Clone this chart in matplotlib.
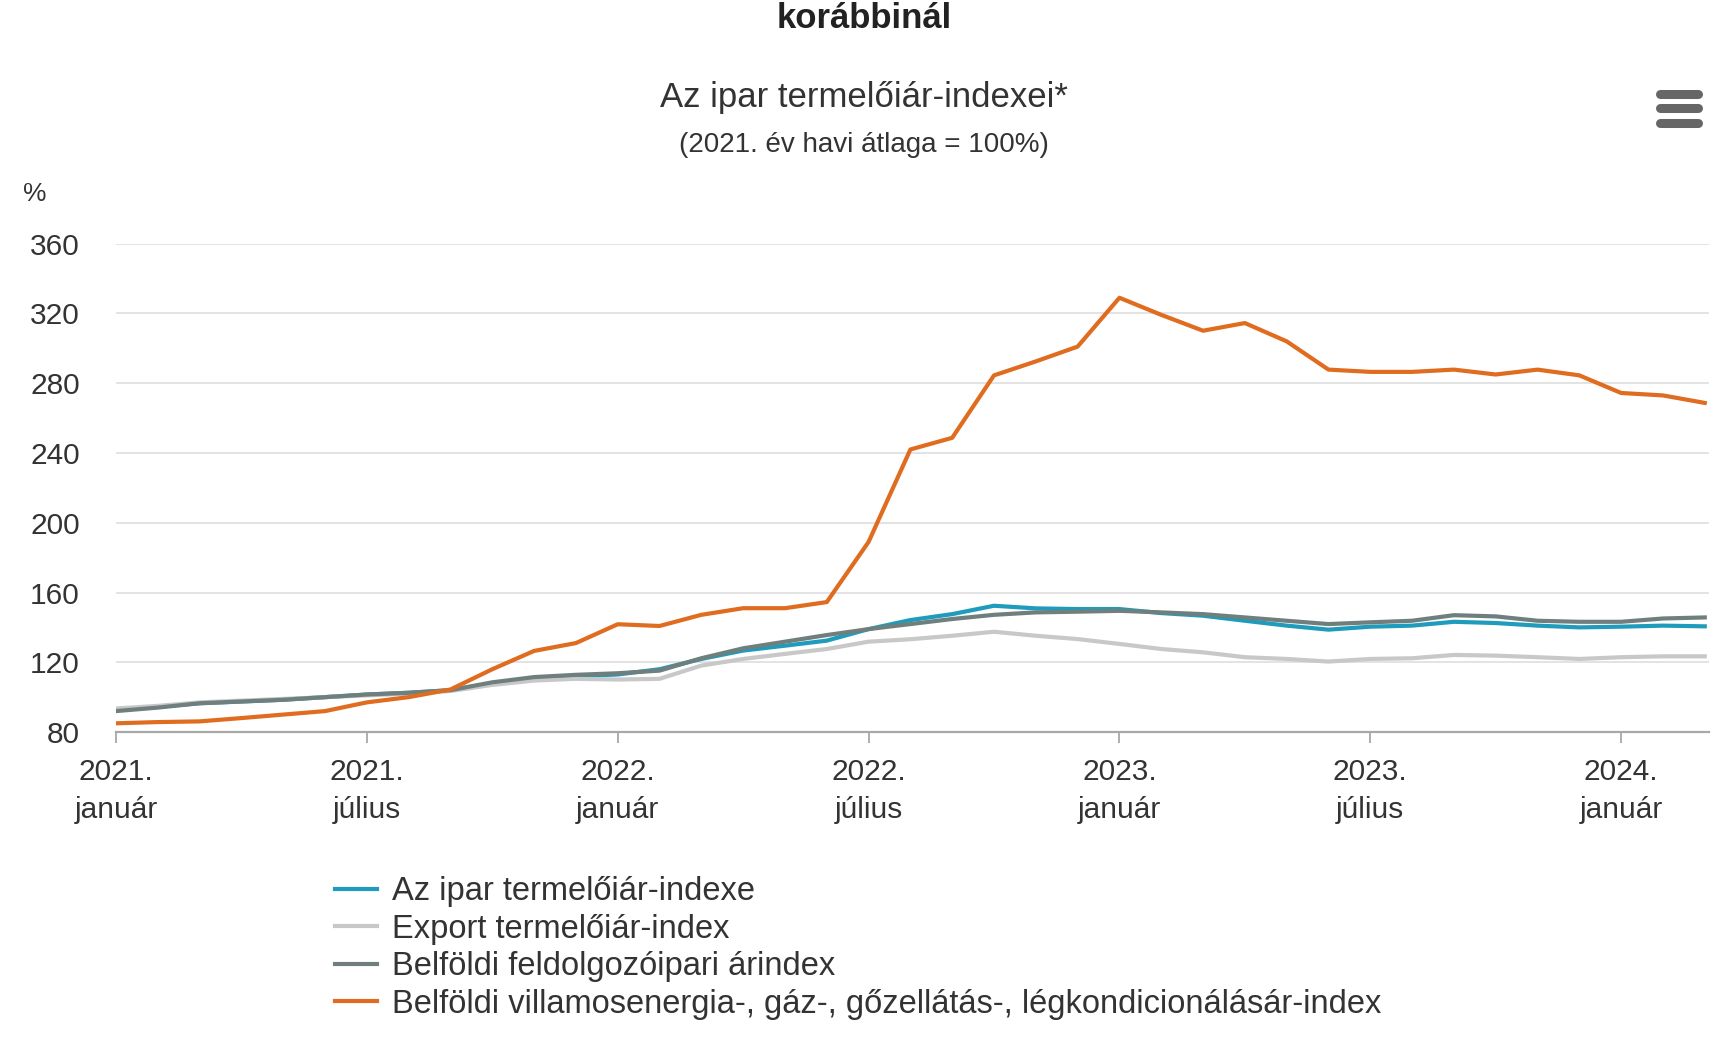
import numpy as np
import matplotlib
matplotlib.use('Agg')
import matplotlib.pyplot as plt
from matplotlib.lines import Line2D

plt.rcParams['font.family'] = ['Liberation Sans', 'DejaVu Sans']

# havi adatok 2021. január - 2024. március
honapok = np.arange(39)
tick_pos = [0, 6, 12, 18, 24, 30, 36]
tick_cimkek = ['2021.\njanuár', '2021.\njúlius', '2022.\njanuár', '2022.\njúlius',
               '2023.\njanuár', '2023.\njúlius', '2024.\njanuár']

ipar = [92.5, 94.5, 96.5, 97.5, 98.5, 100, 101.5, 102.5, 104, 108, 111, 112,
        113, 116, 121.9, 126.7, 129.5, 132.4, 139, 144.2, 147.6, 152.4, 150.9, 150.5,
        150.5, 148.2, 146.7, 143.8, 141, 138.7, 140.4, 141, 143.2, 142.5, 141, 140,
        140.4, 141, 140.6]
export = [93.5, 95, 97, 98, 99, 100, 101, 102, 103.5, 107, 109.5, 110.5,
          110.1, 110.5, 118.1, 121.9, 124.8, 127.6, 131.8, 133.2, 135.2, 137.5, 135.2, 133.3,
          130.5, 127.6, 125.7, 122.9, 121.9, 120.4, 121.9, 122.3, 124.2, 123.8, 122.9, 121.9,
          122.9, 123.4, 123.4]
feldolgozo = [92, 94, 96.5, 97.5, 98.5, 100, 101.5, 102.5, 104, 108.5, 111.5, 112.8,
              113.7, 115.2, 122.3, 128, 131.8, 135.6, 139, 141.9, 144.8, 147.2, 148.6, 149,
              149.5, 148.6, 147.6, 145.7, 143.8, 141.9, 142.9, 143.8, 147, 146.3, 143.8, 143.2,
              143.2, 145.1, 145.7]
energia = [85, 85.7, 86.1, 88, 90, 92, 97, 100, 104.4, 116, 126.5, 131,
           141.8, 140.8, 147.2, 151, 151, 154.5, 189, 242, 248.7, 284.5, 292.5, 301,
           329, 319.2, 310.1, 314.5, 304, 287.8, 286.5, 286.5, 287.8, 285, 287.8, 284.5,
           274.4, 273, 268.7]

sorozatok = [
    ('Az ipar termelőiár-indexe', ipar, '#1f9bbb'),
    ('Export termelőiár-index', export, '#c8c8c8'),
    ('Belföldi feldolgozóipari árindex', feldolgozo, '#6f7f7d'),
    ('Belföldi villamosenergia-, gáz-, gőzellátás-, légkondicionálásár-index', energia, '#e06c1f'),
]

fig = plt.figure(figsize=(17.21, 10.45), dpi=100)
ax = fig.add_axes([0.0674, 0.2995, 0.9256, 0.4673])

for nev, ertekek, szin in sorozatok:
    ax.plot(honapok, ertekek, color=szin, lw=3, label=nev, solid_joinstyle='round')

ax.set_xlim(0, 38.1)
ax.set_ylim(80, 360)
ax.set_yticks(np.arange(80, 361, 40))
ax.set_xticks(tick_pos)
ax.set_xticklabels(tick_cimkek, linespacing=1.45)
ax.grid(axis='y', color='#dedede', lw=1.2)
ax.set_axisbelow(True)
for s in ['top', 'right', 'left']:
    ax.spines[s].set_visible(False)
ax.spines['bottom'].set_color('#a8a8a8')
ax.spines['bottom'].set_linewidth(1.6)
ax.tick_params(axis='y', length=0, pad=26, labelsize=21.5, labelcolor='#333333')
ax.tick_params(axis='x', length=8, width=1.3, color='#a8a8a8', pad=11,
               labelsize=21.5, labelcolor='#333333')

fig.text(0.502, 1 - 18 / 1045, 'korábbinál', ha='center', va='center',
         fontsize=25, fontweight='bold', color='#222222')
fig.text(0.502, 1 - 98 / 1045, 'Az ipar termelőiár-indexei*', ha='center', va='center',
         fontsize=25, color='#333333')
fig.text(0.502, 1 - 145 / 1045, '(2021. év havi átlaga = 100%)', ha='center', va='center',
         fontsize=20, color='#333333')
fig.text(35 / 1721, 1 - 194 / 1045, '%', ha='center', va='center',
         fontsize=19, color='#333333')

# menü ikon
for yy in [94, 108, 123]:
    fig.add_artist(Line2D([1660 / 1721, 1698 / 1721], [1 - yy / 1045, 1 - yy / 1045],
                          color='#666666', lw=6.5, solid_capstyle='round'))

fig.legend(loc='upper left', bbox_to_anchor=(335 / 1721, 1 - 876 / 1045),
           frameon=False, fontsize=23.5, handlelength=1.3, handletextpad=0.45,
           labelspacing=0.2, borderpad=0, borderaxespad=0, labelcolor='#333333')

fig.savefig('out.png', dpi=100)
